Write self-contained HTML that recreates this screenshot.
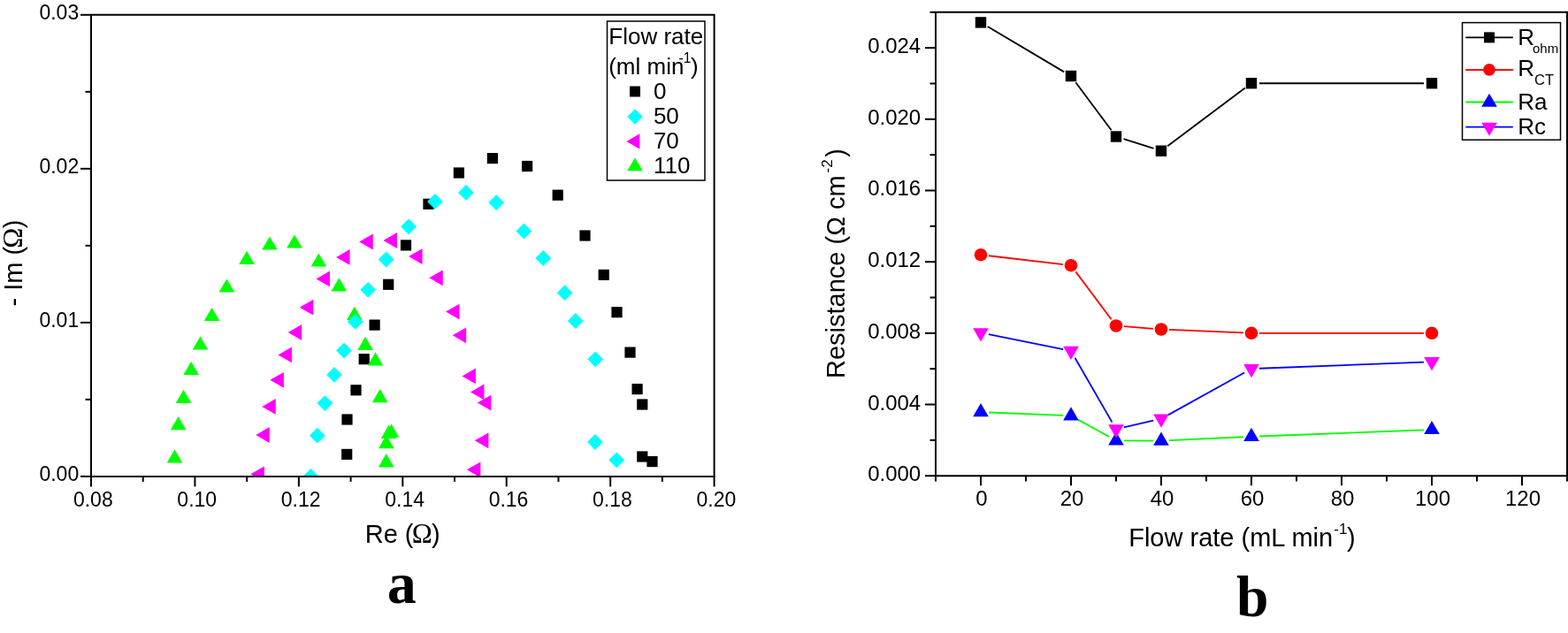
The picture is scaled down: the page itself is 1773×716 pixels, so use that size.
<!DOCTYPE html><html><head><meta charset="utf-8"><title>Figure</title><style>html,body{margin:0;padding:0;background:#fff;overflow:hidden}svg{display:block}</style></head><body>
<svg width="1773" height="716" viewBox="0 0 1773 716">
<rect width="1773" height="716" fill="#fff"/>
<defs><clipPath id="ca"><rect x="103" y="16.8" width="704.6" height="522.1"/></clipPath>
</defs>
<g clip-path="url(#ca)">
<rect x="386.1" y="507.8" width="12.2" height="12.2" fill="#000"/>
<rect x="386.4" y="468.4" width="12.2" height="12.2" fill="#000"/>
<rect x="396.4" y="435.2" width="12.2" height="12.2" fill="#000"/>
<rect x="405.6" y="400.1" width="12.2" height="12.2" fill="#000"/>
<rect x="417.5" y="361.5" width="12.2" height="12.2" fill="#000"/>
<rect x="433.1" y="315.7" width="12.2" height="12.2" fill="#000"/>
<rect x="452.9" y="271.3" width="12.2" height="12.2" fill="#000"/>
<rect x="478.4" y="224.7" width="12.2" height="12.2" fill="#000"/>
<rect x="512.8" y="189.4" width="12.2" height="12.2" fill="#000"/>
<rect x="550.8" y="173" width="12.2" height="12.2" fill="#000"/>
<rect x="590" y="181.9" width="12.2" height="12.2" fill="#000"/>
<rect x="624.6" y="214.6" width="12.2" height="12.2" fill="#000"/>
<rect x="655.4" y="260.4" width="12.2" height="12.2" fill="#000"/>
<rect x="676.6" y="304.8" width="12.2" height="12.2" fill="#000"/>
<rect x="691.4" y="347.1" width="12.2" height="12.2" fill="#000"/>
<rect x="706.4" y="392.5" width="12.2" height="12.2" fill="#000"/>
<rect x="714.5" y="434" width="12.2" height="12.2" fill="#000"/>
<rect x="720.2" y="451.4" width="12.2" height="12.2" fill="#000"/>
<rect x="720.2" y="510.4" width="12.2" height="12.2" fill="#000"/>
<rect x="731.4" y="516" width="12.2" height="12.2" fill="#000"/>
<polygon points="197.5,508.4 206.3,523.6 188.7,523.6" fill="#0f0"/>
<polygon points="201.6,471 210.4,486.2 192.8,486.2" fill="#0f0"/>
<polygon points="207.5,440.7 216.3,455.9 198.7,455.9" fill="#0f0"/>
<polygon points="216.1,408.9 224.9,424.1 207.3,424.1" fill="#0f0"/>
<polygon points="226.5,380.4 235.3,395.6 217.7,395.6" fill="#0f0"/>
<polygon points="239.5,347.9 248.3,363.1 230.7,363.1" fill="#0f0"/>
<polygon points="256.4,315.4 265.2,330.6 247.6,330.6" fill="#0f0"/>
<polygon points="279,283.7 287.8,298.9 270.2,298.9" fill="#0f0"/>
<polygon points="304.9,267.4 313.7,282.6 296.1,282.6" fill="#0f0"/>
<polygon points="333,265.4 341.8,280.6 324.2,280.6" fill="#0f0"/>
<polygon points="360.4,286.4 369.2,301.6 351.6,301.6" fill="#0f0"/>
<polygon points="383.3,314.2 392.1,329.4 374.5,329.4" fill="#0f0"/>
<polygon points="400.8,346.8 409.6,362 392,362" fill="#0f0"/>
<polygon points="413.1,380.8 421.9,396 404.3,396" fill="#0f0"/>
<polygon points="424.5,398.4 433.3,413.6 415.7,413.6" fill="#0f0"/>
<polygon points="429.7,440.1 438.5,455.3 420.9,455.3" fill="#0f0"/>
<polygon points="442.5,479.4 451.3,494.6 433.7,494.6" fill="#0f0"/>
<polygon points="439.6,480.8 448.4,496 430.8,496" fill="#0f0"/>
<polygon points="436.8,492 445.6,507.2 428,507.2" fill="#0f0"/>
<polygon points="436.7,513.2 445.5,528.4 427.9,528.4" fill="#0f0"/>
<polygon points="283.35,536.3 298.85,527.4 298.85,545.2" fill="#f0f"/>
<polygon points="289.25,492 304.75,483.1 304.75,500.9" fill="#f0f"/>
<polygon points="296.25,459.9 311.75,451 311.75,468.8" fill="#f0f"/>
<polygon points="305.35,429.8 320.85,420.9 320.85,438.7" fill="#f0f"/>
<polygon points="314.45,401.4 329.95,392.5 329.95,410.3" fill="#f0f"/>
<polygon points="325.65,376 341.15,367.1 341.15,384.9" fill="#f0f"/>
<polygon points="338.75,347.7 354.25,338.8 354.25,356.6" fill="#f0f"/>
<polygon points="357.45,315.4 372.95,306.5 372.95,324.3" fill="#f0f"/>
<polygon points="380.05,290.9 395.55,282 395.55,299.8" fill="#f0f"/>
<polygon points="406.25,273.5 421.75,264.6 421.75,282.4" fill="#f0f"/>
<polygon points="433.45,272 448.95,263.1 448.95,280.9" fill="#f0f"/>
<polygon points="462.05,290.1 477.55,281.2 477.55,299" fill="#f0f"/>
<polygon points="485.25,314.3 500.75,305.4 500.75,323.2" fill="#f0f"/>
<polygon points="504.05,352.6 519.55,343.7 519.55,361.5" fill="#f0f"/>
<polygon points="511.65,379.3 527.15,370.4 527.15,388.2" fill="#f0f"/>
<polygon points="522.45,425.4 537.95,416.5 537.95,434.3" fill="#f0f"/>
<polygon points="531.95,443.4 547.45,434.5 547.45,452.3" fill="#f0f"/>
<polygon points="539.85,455.6 555.35,446.7 555.35,464.5" fill="#f0f"/>
<polygon points="536.85,498.3 552.35,489.4 552.35,507.2" fill="#f0f"/>
<polygon points="527.85,531.3 543.35,522.4 543.35,540.2" fill="#f0f"/>
<polygon points="351.4,530.1 360.3,539 351.4,547.9 342.5,539" fill="#0ff"/>
<polygon points="358.8,483.8 367.7,492.7 358.8,501.6 349.9,492.7" fill="#0ff"/>
<polygon points="367.4,447.2 376.3,456.1 367.4,465 358.5,456.1" fill="#0ff"/>
<polygon points="378,415 386.9,423.9 378,432.8 369.1,423.9" fill="#0ff"/>
<polygon points="389,387.6 397.9,396.5 389,405.4 380.1,396.5" fill="#0ff"/>
<polygon points="401.7,355 410.6,363.9 401.7,372.8 392.8,363.9" fill="#0ff"/>
<polygon points="416.2,318.9 425.1,327.8 416.2,336.7 407.3,327.8" fill="#0ff"/>
<polygon points="436.6,284.6 445.5,293.5 436.6,302.4 427.7,293.5" fill="#0ff"/>
<polygon points="462,247.4 470.9,256.3 462,265.2 453.1,256.3" fill="#0ff"/>
<polygon points="491.9,219 500.8,227.9 491.9,236.8 483,227.9" fill="#0ff"/>
<polygon points="526.9,209 535.8,217.9 526.9,226.8 518,217.9" fill="#0ff"/>
<polygon points="561.1,220.2 570,229.1 561.1,238 552.2,229.1" fill="#0ff"/>
<polygon points="592.4,252.6 601.3,261.5 592.4,270.4 583.5,261.5" fill="#0ff"/>
<polygon points="614.3,283.1 623.2,292 614.3,300.9 605.4,292" fill="#0ff"/>
<polygon points="638.6,322.3 647.5,331.2 638.6,340.1 629.7,331.2" fill="#0ff"/>
<polygon points="650.8,354.1 659.7,363 650.8,371.9 641.9,363" fill="#0ff"/>
<polygon points="673.2,397.4 682.1,406.3 673.2,415.2 664.3,406.3" fill="#0ff"/>
<polygon points="672.9,491.1 681.8,500 672.9,508.9 664,500" fill="#0ff"/>
<polygon points="697.2,511.4 706.1,520.3 697.2,529.2 688.3,520.3" fill="#0ff"/>
</g>
<g stroke="#000" stroke-width="2" fill="none" stroke-linecap="butt">
<path d="M103 16.8H807.6V538.9H103Z"/>
<path d="M91 538.9H103"/>
<path d="M91 364.87H103"/>
<path d="M91 190.83H103"/>
<path d="M91 16.8H103"/>
<path d="M96.5 451.88H103"/>
<path d="M96.5 277.85H103"/>
<path d="M96.5 103.82H103"/>
<path d="M103 538.9V550.4"/>
<path d="M220.43 538.9V550.4"/>
<path d="M337.87 538.9V550.4"/>
<path d="M455.3 538.9V550.4"/>
<path d="M572.73 538.9V550.4"/>
<path d="M690.17 538.9V550.4"/>
<path d="M807.6 538.9V550.4"/>
<path d="M161.72 538.9V544.9"/>
<path d="M279.15 538.9V544.9"/>
<path d="M396.58 538.9V544.9"/>
<path d="M514.02 538.9V544.9"/>
<path d="M631.45 538.9V544.9"/>
<path d="M748.88 538.9V544.9"/>
</g>
<text x="89.2" y="544.3" font-size="23" text-anchor="end" font-family="'Liberation Sans', Arial, sans-serif">0.00</text>
<text x="89.2" y="370.27" font-size="23" text-anchor="end" font-family="'Liberation Sans', Arial, sans-serif">0.01</text>
<text x="89.2" y="196.23" font-size="23" text-anchor="end" font-family="'Liberation Sans', Arial, sans-serif">0.02</text>
<text x="89.2" y="22.2" font-size="23" text-anchor="end" font-family="'Liberation Sans', Arial, sans-serif">0.03</text>
<text x="105.3" y="573.2" font-size="23" text-anchor="middle" font-family="'Liberation Sans', Arial, sans-serif">0.08</text>
<text x="222.73" y="573.2" font-size="23" text-anchor="middle" font-family="'Liberation Sans', Arial, sans-serif">0.10</text>
<text x="340.17" y="573.2" font-size="23" text-anchor="middle" font-family="'Liberation Sans', Arial, sans-serif">0.12</text>
<text x="457.6" y="573.2" font-size="23" text-anchor="middle" font-family="'Liberation Sans', Arial, sans-serif">0.14</text>
<text x="575.03" y="573.2" font-size="23" text-anchor="middle" font-family="'Liberation Sans', Arial, sans-serif">0.16</text>
<text x="692.47" y="573.2" font-size="23" text-anchor="middle" font-family="'Liberation Sans', Arial, sans-serif">0.18</text>
<text x="809.9" y="573.2" font-size="23" text-anchor="middle" font-family="'Liberation Sans', Arial, sans-serif">0.20</text>
<text x="412.7" y="614" font-size="29" font-family="'Liberation Sans', Arial, sans-serif">Re (<tspan dx="-1.8" font-family="'Liberation Serif', 'Times New Roman', serif" font-size="31">Ω</tspan><tspan dx="-0.7">)</tspan></text>
<text transform="translate(25.1 346.5) rotate(-90)" x="0" y="0" font-size="29" font-family="'Liberation Sans', Arial, sans-serif">- Im (<tspan dx="-1.8" font-family="'Liberation Serif', 'Times New Roman', serif" font-size="31">Ω</tspan><tspan dx="-0.7">)</tspan></text>
<text x="437.7" y="682" font-size="66" font-weight="bold" font-family="'Liberation Serif', 'Times New Roman', serif">a</text>
<rect x="686.5" y="24" width="110.5" height="180" fill="none" stroke="#000" stroke-width="1.5"/>
<text x="688.3" y="49.9" font-size="26" text-anchor="start" font-family="'Liberation Sans', Arial, sans-serif">Flow rate</text>
<text x="688.2" y="83.8" font-size="26" font-family="'Liberation Sans', Arial, sans-serif">(ml min<tspan x="767.6" y="70.5" font-size="15.6">-1</tspan><tspan x="781.1" y="83.8">)</tspan></text>
<rect x="712" y="97.5" width="12" height="12" fill="#000"/>
<polygon points="718,123.2 726.8,132 718,140.8 709.2,132" fill="#0ff"/>
<polygon points="708.3,159.9 723.3,151.3 723.3,168.5" fill="#f0f"/>
<polygon points="718,178.4 726.8,193.2 709.2,193.2" fill="#0f0"/>
<text x="738.9" y="112.1" font-size="26" text-anchor="start" font-family="'Liberation Sans', Arial, sans-serif">0</text>
<text x="738.9" y="140" font-size="26" text-anchor="start" font-family="'Liberation Sans', Arial, sans-serif">50</text>
<text x="738.9" y="167.9" font-size="26" text-anchor="start" font-family="'Liberation Sans', Arial, sans-serif">70</text>
<text x="738.9" y="195.8" font-size="26" text-anchor="start" font-family="'Liberation Sans', Arial, sans-serif">110</text>
<g stroke="#000" stroke-width="2" fill="none">
<path d="M1058 13.8H1772V538.2H1058Z"/>
<path d="M1046 538.2H1058"/>
<path d="M1046 457.52H1058"/>
<path d="M1046 376.85H1058"/>
<path d="M1046 296.17H1058"/>
<path d="M1046 215.49H1058"/>
<path d="M1046 134.82H1058"/>
<path d="M1046 54.14H1058"/>
<path d="M1051.5 497.86H1058"/>
<path d="M1051.5 417.18H1058"/>
<path d="M1051.5 336.51H1058"/>
<path d="M1051.5 255.83H1058"/>
<path d="M1051.5 175.15H1058"/>
<path d="M1051.5 94.48H1058"/>
<path d="M1051.5 13.8H1058"/>
<path d="M1109 538.2V549.2"/>
<path d="M1211 538.2V549.2"/>
<path d="M1313 538.2V549.2"/>
<path d="M1415 538.2V549.2"/>
<path d="M1517 538.2V549.2"/>
<path d="M1619 538.2V549.2"/>
<path d="M1721 538.2V549.2"/>
<path d="M1058 538.2V544.5"/>
<path d="M1160 538.2V544.5"/>
<path d="M1262 538.2V544.5"/>
<path d="M1364 538.2V544.5"/>
<path d="M1466 538.2V544.5"/>
<path d="M1568 538.2V544.5"/>
<path d="M1670 538.2V544.5"/>
<path d="M1772 538.2V544.5"/>
</g>
<text x="1041.2" y="544.2" font-size="24" text-anchor="end" font-family="'Liberation Sans', Arial, sans-serif">0.000</text>
<text x="1041.2" y="463.52" font-size="24" text-anchor="end" font-family="'Liberation Sans', Arial, sans-serif">0.004</text>
<text x="1041.2" y="382.85" font-size="24" text-anchor="end" font-family="'Liberation Sans', Arial, sans-serif">0.008</text>
<text x="1041.2" y="302.17" font-size="24" text-anchor="end" font-family="'Liberation Sans', Arial, sans-serif">0.012</text>
<text x="1041.2" y="221.49" font-size="24" text-anchor="end" font-family="'Liberation Sans', Arial, sans-serif">0.016</text>
<text x="1041.2" y="140.82" font-size="24" text-anchor="end" font-family="'Liberation Sans', Arial, sans-serif">0.020</text>
<text x="1041.2" y="60.14" font-size="24" text-anchor="end" font-family="'Liberation Sans', Arial, sans-serif">0.024</text>
<text x="1110" y="571.6" font-size="24" text-anchor="middle" font-family="'Liberation Sans', Arial, sans-serif">0</text>
<text x="1212" y="571.6" font-size="24" text-anchor="middle" font-family="'Liberation Sans', Arial, sans-serif">20</text>
<text x="1314" y="571.6" font-size="24" text-anchor="middle" font-family="'Liberation Sans', Arial, sans-serif">40</text>
<text x="1416" y="571.6" font-size="24" text-anchor="middle" font-family="'Liberation Sans', Arial, sans-serif">60</text>
<text x="1518" y="571.6" font-size="24" text-anchor="middle" font-family="'Liberation Sans', Arial, sans-serif">80</text>
<text x="1620" y="571.6" font-size="24" text-anchor="middle" font-family="'Liberation Sans', Arial, sans-serif">100</text>
<text x="1722" y="571.6" font-size="24" text-anchor="middle" font-family="'Liberation Sans', Arial, sans-serif">120</text>
<line x1="1116.74" y1="30" x2="1203.26" y2="81.4" stroke="#000" stroke-width="1.85"/><line x1="1216.37" y1="93.22" x2="1256.63" y2="147.28" stroke="#000" stroke-width="1.85"/><line x1="1270.58" y1="157.22" x2="1304.42" y2="167.98" stroke="#000" stroke-width="1.85"/><line x1="1320.2" y1="165.3" x2="1407.8" y2="99.6" stroke="#000" stroke-width="1.85"/><line x1="1424" y1="94.2" x2="1610" y2="94.2" stroke="#000" stroke-width="1.85"/>
<rect x="1102.8" y="19.2" width="12.4" height="12.4" fill="#000"/>
<rect x="1204.8" y="79.8" width="12.4" height="12.4" fill="#000"/>
<rect x="1255.8" y="148.3" width="12.4" height="12.4" fill="#000"/>
<rect x="1306.8" y="164.5" width="12.4" height="12.4" fill="#000"/>
<rect x="1408.8" y="88" width="12.4" height="12.4" fill="#000"/>
<rect x="1612.8" y="88" width="12.4" height="12.4" fill="#000"/>
<line x1="1117.94" y1="289.25" x2="1202.06" y2="299.15" stroke="#f00" stroke-width="1.85"/><line x1="1216.38" y1="307.41" x2="1256.62" y2="361.29" stroke="#f00" stroke-width="1.85"/><line x1="1270.97" y1="369.2" x2="1304.03" y2="371.8" stroke="#f00" stroke-width="1.85"/><line x1="1321.99" y1="372.88" x2="1406.01" y2="376.42" stroke="#f00" stroke-width="1.85"/><line x1="1424" y1="376.8" x2="1610" y2="376.8" stroke="#f00" stroke-width="1.85"/>
<circle cx="1109" cy="288.2" r="7.3" fill="#f00"/>
<circle cx="1211" cy="300.2" r="7.3" fill="#f00"/>
<circle cx="1262" cy="368.5" r="7.3" fill="#f00"/>
<circle cx="1313" cy="372.5" r="7.3" fill="#f00"/>
<circle cx="1415" cy="376.8" r="7.3" fill="#f00"/>
<circle cx="1619" cy="376.8" r="7.3" fill="#f00"/>
<line x1="1117.99" y1="466.47" x2="1202.01" y2="469.93" stroke="#0f0" stroke-width="1.85"/><line x1="1218.88" y1="474.64" x2="1254.12" y2="494.06" stroke="#0f0" stroke-width="1.85"/><line x1="1271" y1="498.44" x2="1304" y2="498.56" stroke="#0f0" stroke-width="1.85"/><line x1="1321.99" y1="498.18" x2="1406.01" y2="494.22" stroke="#0f0" stroke-width="1.85"/><line x1="1423.99" y1="493.46" x2="1610.01" y2="486.34" stroke="#0f0" stroke-width="1.85"/>
<polygon points="1109,456 1117.8,471.2 1100.2,471.2" fill="#00f"/>
<polygon points="1211,460.2 1219.8,475.4 1202.2,475.4" fill="#00f"/>
<polygon points="1262,488.3 1270.8,503.5 1253.2,503.5" fill="#00f"/>
<polygon points="1313,488.5 1321.8,503.7 1304.2,503.7" fill="#00f"/>
<polygon points="1415,483.7 1423.8,498.9 1406.2,498.9" fill="#00f"/>
<polygon points="1619,475.9 1627.8,491.1 1610.2,491.1" fill="#00f"/>
<line x1="1117.82" y1="378.17" x2="1202.18" y2="395.13" stroke="#00f" stroke-width="1.85"/><line x1="1215.49" y1="404.7" x2="1257.51" y2="477.6" stroke="#00f" stroke-width="1.85"/><line x1="1270.77" y1="483.39" x2="1304.23" y2="475.71" stroke="#00f" stroke-width="1.85"/><line x1="1320.87" y1="469.33" x2="1407.13" y2="421.47" stroke="#00f" stroke-width="1.85"/><line x1="1423.99" y1="416.75" x2="1610.01" y2="409.55" stroke="#00f" stroke-width="1.85"/>
<polygon points="1100.2,371.3 1117.8,371.3 1109,386.5" fill="#f0f"/>
<polygon points="1202.2,391.8 1219.8,391.8 1211,407" fill="#f0f"/>
<polygon points="1253.2,480.3 1270.8,480.3 1262,495.5" fill="#f0f"/>
<polygon points="1304.2,468.6 1321.8,468.6 1313,483.8" fill="#f0f"/>
<polygon points="1406.2,412 1423.8,412 1415,427.2" fill="#f0f"/>
<polygon points="1610.2,404.1 1627.8,404.1 1619,419.3" fill="#f0f"/>
<rect x="1653.5" y="25.6" width="111" height="132.6" fill="none" stroke="#000" stroke-width="1.5"/>
<line x1="1657.3" y1="42.4" x2="1710.8" y2="42.4" stroke="#000" stroke-width="1.8"/>
<line x1="1657.3" y1="79" x2="1710.8" y2="79" stroke="#f00" stroke-width="1.8"/>
<line x1="1657.3" y1="115.5" x2="1710.8" y2="115.5" stroke="#0f0" stroke-width="1.8"/>
<line x1="1657.3" y1="143.6" x2="1710.8" y2="143.6" stroke="#00f" stroke-width="1.8"/>
<rect x="1678" y="36.4" width="12" height="12" fill="#000"/>
<circle cx="1684" cy="78.8" r="6.9" fill="#f00"/>
<polygon points="1684,105.8 1692.8,120.8 1675.2,120.8" fill="#00f"/>
<polygon points="1675.2,138.7 1692.8,138.7 1684,153.7" fill="#f0f"/>
<text x="1716.2" y="50.7" font-size="26" font-family="'Liberation Sans', Arial, sans-serif">R<tspan x="1733" y="59.6" font-size="15">ohm</tspan></text>
<text x="1716.2" y="86.3" font-size="26" font-family="'Liberation Sans', Arial, sans-serif">R<tspan x="1735" y="95.6" font-size="16.5">CT</tspan></text>
<text x="1716.2" y="123.9" font-size="26" text-anchor="start" font-family="'Liberation Sans', Arial, sans-serif">Ra</text>
<text x="1716.2" y="151.7" font-size="26" text-anchor="start" font-family="'Liberation Sans', Arial, sans-serif">Rc</text>
<text x="1276.2" y="618" font-size="29" font-family="'Liberation Sans', Arial, sans-serif">Flow rate (mL min<tspan x="1508.3" y="603.8" font-size="17">-1</tspan><tspan x="1523" y="618">)</tspan></text>
<text transform="translate(955.3 428) rotate(-90)" font-size="29" font-family="'Liberation Sans', Arial, sans-serif">Resistance (Ω cm<tspan dx="2.9" dy="-14.5" font-size="17">-2</tspan><tspan dx="2.6" dy="14.5">)</tspan></text>
<text x="1398" y="697" font-size="65.5" font-weight="bold" font-family="'Liberation Serif', 'Times New Roman', serif">b</text>
</svg></body></html>
